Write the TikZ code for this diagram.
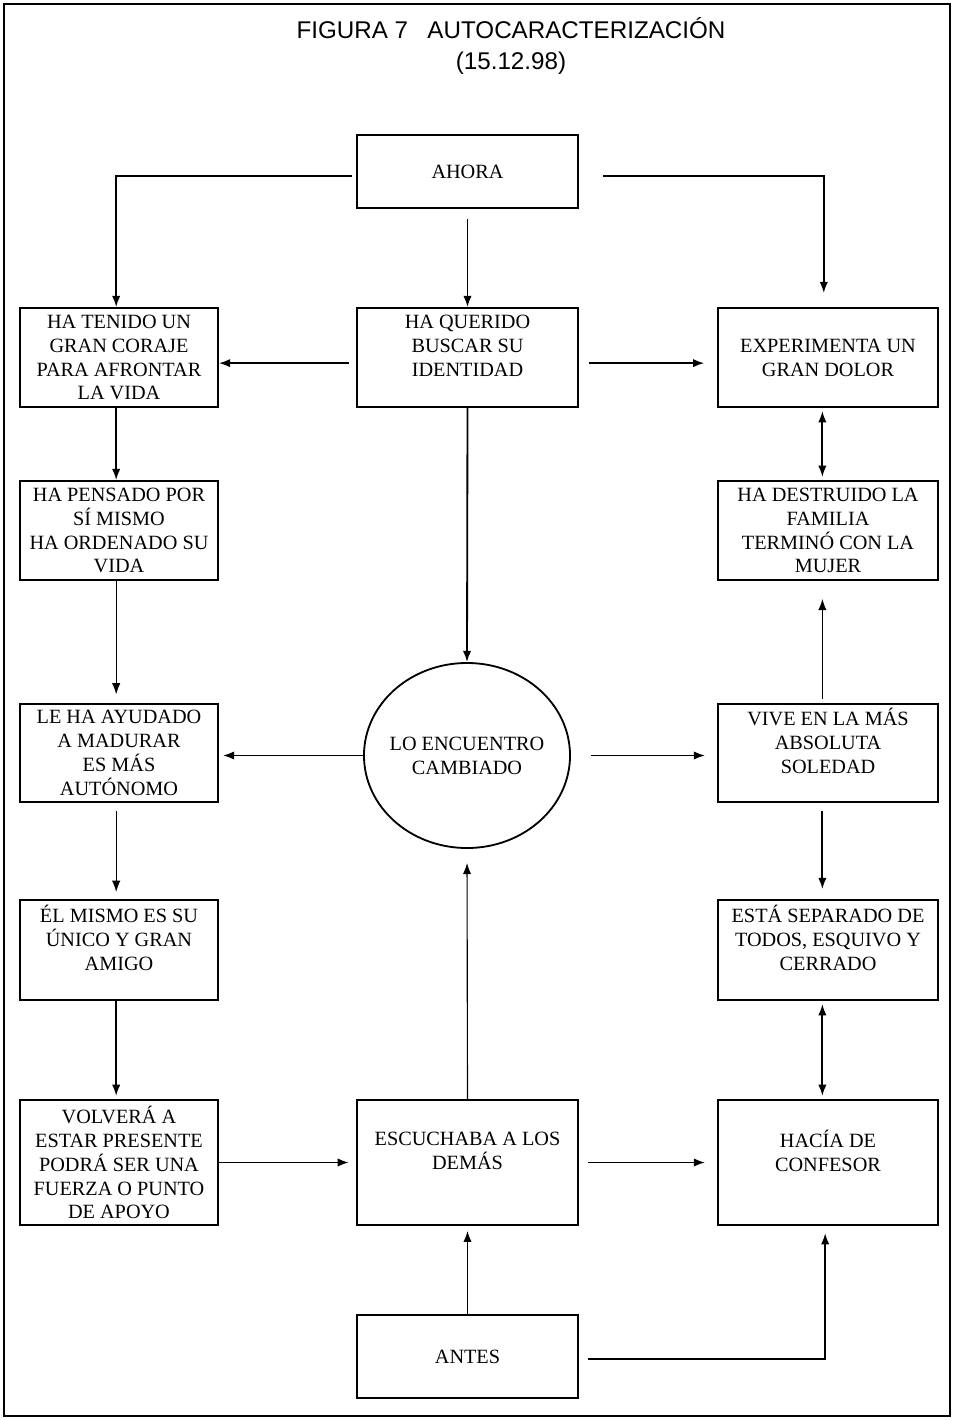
\documentclass[tikz,border=0pt]{standalone}
\usepackage{fontspec}
\setmainfont{Liberation Serif}
\newfontfamily\titulofont{Liberation Sans}
\usetikzlibrary{shapes.geometric, arrows.meta}

\begin{document}
\begin{tikzpicture}[x=0.025cm, y=-0.025cm,
  caja/.style={draw, line width=1.3pt, align=center, inner sep=2pt,
    font=\fontsize{14.4}{17}\selectfont},
  izq/.style={caja, minimum width=4.95cm},
  cen/.style={caja, minimum width=5.525cm},
  der/.style={caja, minimum width=5.5cm},
  flecha/.style={-{Latex[length=8pt, width=6pt]}, line width=1.3pt},
  doble/.style={{Latex[length=8pt, width=6pt]}-{Latex[length=8pt, width=6pt]}, line width=1.3pt}]
  % marco
  \useasboundingbox (0,0) rectangle (954,1420);
  \draw [line width=1.3pt] (4,4) rectangle (950,1416);
  % titulo
  \node (titulo) at (511,46) [align=center, font=\titulofont\fontsize{17.2}{22.7}\selectfont]
    {FIGURA 7\hspace{0.8em}AUTOCARACTERIZACIÓN\\(15.12.98)};
  % columna central
  \node [cen, minimum height=1.825cm] (ahora) at (467.5,171.5) {AHORA};
  \node [cen, minimum height=2.475cm] (identidad) at (467.5,357.5)
    {HA QUERIDO\\BUSCAR SU\\IDENTIDAD\\\mbox{}};
  \node [draw, ellipse, line width=1.3pt, inner xsep=-12pt, inner ysep=0pt, minimum width=5.15cm,
    minimum height=4.625cm, align=center, font=\fontsize{14.4}{17}\selectfont]
    (encuentro) at (467,755.5) {LO ENCUENTRO\\CAMBIADO};
  \node [cen, minimum height=3.125cm] (escuchaba) at (467.5,1162.5)
    {ESCUCHABA A LOS\\DEMÁS\\\mbox{}};
  \node [cen, minimum height=2.075cm] (antes) at (467.5,1356.5) {ANTES};
  % columna izquierda
  \node [izq, minimum height=2.475cm] (coraje) at (119,357.5)
    {HA TENIDO UN\\GRAN CORAJE\\PARA AFRONTAR\\LA VIDA};
  \node [izq, minimum height=2.475cm] (pensado) at (119,530.5)
    {HA PENSADO POR\\SÍ MISMO\\HA ORDENADO SU\\VIDA};
  \node [izq, minimum height=2.45cm] (madurar) at (119,753)
    {LE HA AYUDADO\\A MADURAR\\ES MÁS\\AUTÓNOMO};
  \node [izq, minimum height=2.5cm] (amigo) at (119,950)
    {ÉL MISMO ES SU\\ÚNICO Y GRAN\\AMIGO\\\mbox{}};
  \node [izq, minimum height=3.125cm] (volvera) at (119,1162.5)
    {VOLVERÁ A\\ESTAR PRESENTE\\PODRÁ SER UNA\\FUERZA O PUNTO\\DE APOYO};
  % columna derecha
  \node [der, minimum height=2.475cm] (dolor) at (828,357.5)
    {EXPERIMENTA UN\\GRAN DOLOR};
  \node [der, minimum height=2.475cm] (familia) at (828,530.5)
    {HA DESTRUIDO LA\\FAMILIA\\TERMINÓ CON LA\\MUJER};
  \node [der, minimum height=2.45cm] (soledad) at (828,753)
    {VIVE EN LA MÁS\\ABSOLUTA\\SOLEDAD\\\mbox{}};
  \node [der, minimum height=2.5cm] (separado) at (828,950)
    {ESTÁ SEPARADO DE\\TODOS, ESQUIVO Y\\CERRADO\\\mbox{}};
  \node [der, minimum height=3.125cm] (confesor) at (828,1162.5)
    {HACÍA DE\\CONFESOR\\\mbox{}};
  % flechas desde ahora
  \draw [flecha, shorten <=0.1cm] ([yshift=-3pt]ahora.west) -| ([xshift=-2pt]coraje.north);
  \draw [flecha, shorten <=0.6cm, shorten >=0.35cm] ([yshift=-3pt]ahora.east) -| ([xshift=-3pt]dolor.north);
  \draw [flecha, shorten <=0.25cm] (ahora.south) -- (identidad.north);
  \draw [flecha, shorten <=0.18cm] ([yshift=-4pt]identidad.west) -- ([yshift=-4pt]coraje.east);
  \draw [flecha, shorten <=0.25cm, shorten >=0.32cm] ([yshift=-4pt]identidad.east) -- ([yshift=-4pt]dolor.west);
  \draw [flecha] (identidad.south) -- (encuentro.north);
  % columna izquierda
  \draw [flecha] ([xshift=-2pt]coraje.south) -- ([xshift=-2pt]pensado.north);
  \draw [flecha, line width=0.6pt, shorten >=0.22cm] ([xshift=-2pt]pensado.south) -- ([xshift=-2pt]madurar.north);
  \draw [flecha, line width=0.6pt, shorten <=0.2cm, shorten >=0.18cm] ([xshift=-2pt]madurar.south) -- ([xshift=-2pt]amigo.north);
  \draw [flecha, shorten >=0.08cm] ([xshift=-2pt]amigo.south) -- ([xshift=-2pt]volvera.north);
  \draw [flecha, shorten >=0.18cm] (volvera.east) -- (escuchaba.west);
  % desde el centro
  \draw [flecha, shorten >=0.1cm] (encuentro.west) -- (encuentro.west -| madurar.east);
  \draw [flecha, shorten <=0.5cm, shorten >=0.3cm] (encuentro.east) -- (encuentro.east -| soledad.west);
  \draw [flecha, line width=0.8pt, shorten >=0.35cm] (escuchaba.north) -- (encuentro.south);
  \draw [flecha, shorten <=0.22cm, shorten >=0.3cm] (escuchaba.east) -- (confesor.west);
  \draw [flecha, shorten >=0.12cm] (antes.north) -- (escuchaba.south);
  \draw [flecha, shorten <=0.22cm, shorten >=0.18cm] ([yshift=-2pt]antes.east) -| ([xshift=-2pt]confesor.south);
  % columna derecha
  \draw [doble, shorten <=0.08cm, shorten >=0.08cm] ([xshift=-4pt]dolor.south) -- ([xshift=-4pt]familia.north);
  \draw [flecha, line width=0.8pt, shorten <=0.1cm, shorten >=0.45cm] ([xshift=-4pt]soledad.north) -- ([xshift=-4pt]familia.south);
  \draw [flecha, shorten <=0.2cm, shorten >=0.25cm] ([xshift=-4pt]soledad.south) -- ([xshift=-4pt]separado.north);
  \draw [doble, shorten <=0.08cm, shorten >=0.08cm] ([xshift=-4pt]separado.south) -- ([xshift=-4pt]confesor.north);
\end{tikzpicture}
\end{document}
